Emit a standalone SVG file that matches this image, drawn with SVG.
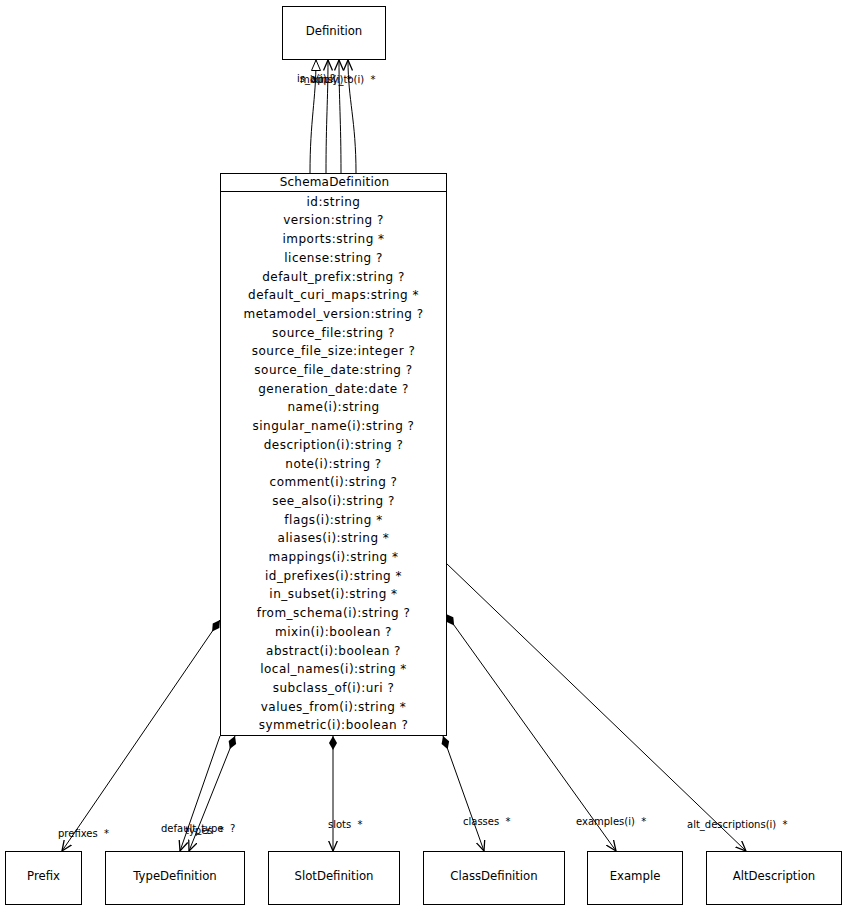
<svg xmlns="http://www.w3.org/2000/svg" width="846" height="910" viewBox="0 0 846 910">
<style>
.box{fill:#fff;stroke:#000;stroke-width:1}
.t{font-family:"DejaVu Sans",sans-serif;font-size:11.7px;fill:#000;text-anchor:middle}
.h{font-family:"DejaVu Sans",sans-serif;font-size:12px;fill:#000;text-anchor:middle;letter-spacing:0.2px}
.a{font-family:"DejaVu Sans",sans-serif;font-size:12px;fill:#000;text-anchor:middle;letter-spacing:0.5px}
.l{font-family:"DejaVu Sans",sans-serif;font-size:10px;fill:#000;white-space:pre}
.e{fill:none;stroke:#000;stroke-width:1}
</style>
<defs>
<marker id="dia" viewBox="0 0 14 9" refX="0" refY="4.5" markerWidth="14" markerHeight="9" markerUnits="userSpaceOnUse" orient="auto"><path d="M0,4.5 L7,0.5 L14,4.5 L7,8.5 Z" fill="#000"/></marker>
<marker id="arr" viewBox="0 0 11 10" refX="10.5" refY="5" markerWidth="11" markerHeight="10" markerUnits="userSpaceOnUse" orient="auto"><path d="M0,0.5 L10.5,5 L0,9.5" fill="none" stroke="#000" stroke-width="1.3"/></marker>
<marker id="tri" viewBox="0 0 12 10" refX="11" refY="5" markerWidth="12" markerHeight="10" markerUnits="userSpaceOnUse" orient="auto"><path d="M0.5,0.5 L11,5 L0.5,9.5 Z" fill="#fff" stroke="#000" stroke-width="1"/></marker>
</defs>
<g id="edges">
<path class="e" d="M310,173 C310,120 316,100 316,60" marker-end="url(#tri)"/>
<path class="e" d="M326,173 C326,120 328,100 328,60" marker-end="url(#arr)"/>
<path class="e" d="M341,173 C341,120 339,100 339,60" marker-end="url(#arr)"/>
<path class="e" d="M356,173 C356,120 348,100 348,60" marker-end="url(#arr)"/>
<text class="l" x="297" y="82">is_a(i) ?</text>
<text class="l" x="300" y="83">mixins(i) *</text>
<text class="l" x="311" y="83">apply_to(i)  *</text>
<path class="e" d="M220,620 L62,851" marker-start="url(#dia)" marker-end="url(#arr)"/>
<text class="l" x="58" y="837">prefixes  *</text>
<path class="e" d="M220,736 L180,851" marker-end="url(#arr)"/>
<path class="e" d="M235,736 L189,851" marker-start="url(#dia)" marker-end="url(#arr)"/>
<text class="l" x="161" y="832">default_type  ?</text>
<text class="l" x="185" y="834">types  *</text>
<path class="e" d="M333,736 L333,851" marker-start="url(#dia)" marker-end="url(#arr)"/>
<text class="l" x="328" y="828">slots  *</text>
<path class="e" d="M443,736 L484,851" marker-start="url(#dia)" marker-end="url(#arr)"/>
<text class="l" x="463" y="825">classes  *</text>
<path class="e" d="M446,614 L616,851" marker-start="url(#dia)" marker-end="url(#arr)"/>
<text class="l" x="576" y="825">examples(i)  *</text>
<path class="e" d="M446,563 L746,851" marker-end="url(#arr)"/>
<text class="l" x="687" y="828">alt_descriptions(i)  *</text>
</g>
<g id="Definition">
<rect class="box" x="282.5" y="6.5" width="103" height="53"/>
<text class="t" x="334" y="35">Definition</text>
</g>
<g id="SchemaDefinition">
<rect class="box" x="220.5" y="173.5" width="226" height="562"/>
<line class="e" x1="220.5" y1="191.5" x2="446.5" y2="191.5"/>
<text class="h" x="334.5" y="186">SchemaDefinition</text>
<text class="a" x="333.5" y="205.7">id:string</text>
<text class="a" x="333.5" y="224.4">version:string ?</text>
<text class="a" x="333.5" y="243.1">imports:string *</text>
<text class="a" x="333.5" y="261.8">license:string ?</text>
<text class="a" x="333.5" y="280.5">default_prefix:string ?</text>
<text class="a" x="333.5" y="299.2">default_curi_maps:string *</text>
<text class="a" x="333.5" y="317.9">metamodel_version:string ?</text>
<text class="a" x="333.5" y="336.6">source_file:string ?</text>
<text class="a" x="333.5" y="355.3">source_file_size:integer ?</text>
<text class="a" x="333.5" y="374.0">source_file_date:string ?</text>
<text class="a" x="333.5" y="392.7">generation_date:date ?</text>
<text class="a" x="333.5" y="411.4">name(i):string</text>
<text class="a" x="333.5" y="430.1">singular_name(i):string ?</text>
<text class="a" x="333.5" y="448.8">description(i):string ?</text>
<text class="a" x="333.5" y="467.5">note(i):string ?</text>
<text class="a" x="333.5" y="486.2">comment(i):string ?</text>
<text class="a" x="333.5" y="504.9">see_also(i):string ?</text>
<text class="a" x="333.5" y="523.6">flags(i):string *</text>
<text class="a" x="333.5" y="542.3">aliases(i):string *</text>
<text class="a" x="333.5" y="561.0">mappings(i):string *</text>
<text class="a" x="333.5" y="579.7">id_prefixes(i):string *</text>
<text class="a" x="333.5" y="598.4">in_subset(i):string *</text>
<text class="a" x="333.5" y="617.1">from_schema(i):string ?</text>
<text class="a" x="333.5" y="635.8">mixin(i):boolean ?</text>
<text class="a" x="333.5" y="654.5">abstract(i):boolean ?</text>
<text class="a" x="333.5" y="673.2">local_names(i):string *</text>
<text class="a" x="333.5" y="691.9">subclass_of(i):uri ?</text>
<text class="a" x="333.5" y="710.6">values_from(i):string *</text>
<text class="a" x="333.5" y="729.3">symmetric(i):boolean ?</text>
</g>
<g id="Prefix">
<rect class="box" x="5.5" y="851.5" width="76" height="53"/>
<text class="t" x="43.5" y="880">Prefix</text>
</g>
<g id="TypeDefinition">
<rect class="box" x="105.5" y="851.5" width="139" height="53"/>
<text class="t" x="175" y="880">TypeDefinition</text>
</g>
<g id="SlotDefinition">
<rect class="box" x="268.5" y="851.5" width="131" height="53"/>
<text class="t" x="334" y="880">SlotDefinition</text>
</g>
<g id="ClassDefinition">
<rect class="box" x="423.5" y="851.5" width="141" height="53"/>
<text class="t" x="494" y="880">ClassDefinition</text>
</g>
<g id="Example">
<rect class="box" x="587.5" y="851.5" width="95" height="53"/>
<text class="t" x="635" y="880">Example</text>
</g>
<g id="AltDescription">
<rect class="box" x="706.5" y="851.5" width="135" height="53"/>
<text class="t" x="774" y="880">AltDescription</text>
</g>
</svg>
